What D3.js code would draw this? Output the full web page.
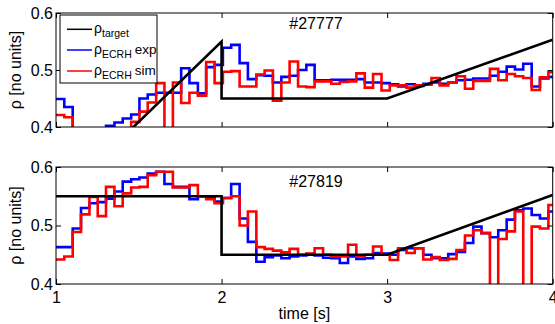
<!DOCTYPE html>
<html><head><meta charset="utf-8">
<script src="https://cdnjs.cloudflare.com/ajax/libs/d3/7.8.5/d3.min.js"></script>
<style>body{margin:0;background:#fff}</style>
</head><body>
<svg id="c" width="555" height="324"></svg>
<script>
// step edges [s]
const stepTimes = [1.000,1.050,1.101,1.151,1.202,1.252,1.302,1.353,1.403,1.454,
  1.504,1.554,1.605,1.655,1.706,1.756,1.806,1.857,1.907,1.958,
  2.008,2.058,2.109,2.159,2.210,2.260,2.310,2.361,2.411,2.462,
  2.512,2.562,2.613,2.663,2.714,2.764,2.814,2.865,2.915,2.966,
  3.016,3.066,3.117,3.167,3.218,3.268,3.318,3.369,3.419,3.470,
  3.520,3.570,3.621,3.671,3.722,3.772,3.822,3.873,3.923,3.974,4.024];

// shot #27777
const topExp = [0.449,0.435,0.38,0.37,0.37,0.38,0.402,0.408,0.415,0.422,
  0.450,0.457,0.460,0.460,0.460,0.503,0.477,0.459,0.505,0.509,
  0.539,0.544,0.512,0.484,0.491,0.490,0.478,0.488,0.490,0.500,
  0.509,0.482,0.482,0.483,0.483,0.483,0.484,0.478,0.478,0.477,
  0.475,0.471,0.475,0.472,0.476,0.478,0.476,0.478,0.482,0.483,
  0.485,0.485,0.490,0.497,0.506,0.501,0.511,0.471,0.485,0.488];
const topSim = [0.421,0.417,0.37,0.36,0.36,0.36,0.37,0.37,0.38,0.409,
  0.427,0.443,0.477,0.37,0.478,0.442,0.460,0.455,0.514,0.477,
  0.497,0.498,0.471,0.471,0.492,0.499,0.446,0.478,0.515,0.471,
  0.470,0.480,0.480,0.476,0.479,0.480,0.494,0.469,0.493,0.464,
  0.473,0.473,0.469,0.473,0.474,0.486,0.473,0.478,0.489,0.467,
  0.481,0.481,0.502,0.482,0.493,0.489,0.486,0.465,0.487,0.496];
const topTargetT = [1.45,2.0,2.0,3.0,4.0];
const topTargetV = [0.395,0.55,0.45,0.45,0.553];

// shot #27819
const botExp = [0.463,0.463,0.495,0.530,0.538,0.540,0.546,0.558,0.575,0.579,
  0.582,0.589,0.592,0.571,0.566,0.566,0.545,0.550,0.549,0.541,
  0.547,0.571,0.512,0.472,0.438,0.446,0.449,0.444,0.447,0.449,
  0.451,0.449,0.445,0.444,0.436,0.447,0.443,0.444,0.453,0.452,
  0.450,0.458,0.461,0.461,0.450,0.444,0.444,0.451,0.455,0.470,
  0.498,0.487,0.480,0.492,0.510,0.526,0.529,0.518,0.512,0.524];
const botSim = [0.442,0.447,0.489,0.519,0.549,0.516,0.566,0.533,0.555,0.565,
  0.566,0.586,0.592,0.592,0.565,0.565,0.569,0.550,0.545,0.538,
  0.547,0.550,0.500,0.524,0.463,0.460,0.457,0.454,0.460,0.450,
  0.452,0.461,0.450,0.447,0.447,0.467,0.447,0.450,0.464,0.450,
  0.441,0.461,0.453,0.461,0.442,0.446,0.441,0.443,0.458,0.483,
  0.492,0.487,0.30,0.477,0.490,0.524,0.30,0.498,0.495,0.535];
const botTargetT = [1.0,2.0,2.0,3.0,4.0];
const botTargetV = [0.55,0.55,0.45,0.45,0.552];

const xTicks = [1,2,3,4];
const yTicks = [0.4,0.5,0.6];
const shotTitles = ["#27777","#27819"];
const legendLabels = [["target",""],["ECRH","exp"],["ECRH","sim"]];

const FONT = "'Liberation Sans', Arial, Helvetica, sans-serif";
const svg = d3.select("#c");
const x = d3.scaleLinear().domain([1,4]).range([56,552.7]);

const panels = [
  {top:13, bottom:127, title:shotTitles[0], exp:topExp, sim:topSim, tT:topTargetT, tV:topTargetV, labels:false, titleY:29.3},
  {top:167, bottom:284, title:shotTitles[1], exp:botExp, sim:botSim, tT:botTargetT, tV:botTargetV, labels:true, titleY:186.7}
];

panels.forEach((p,i)=>{
  const y = d3.scaleLinear().domain([0.4,0.6]).range([p.bottom,p.top]);
  const g = svg.append("g");
  g.append("clipPath").attr("id","clip"+i).append("rect")
    .attr("x",x(1)).attr("y",p.top).attr("width",x(4)-x(1)).attr("height",p.bottom-p.top);
  const plot = g.append("g").attr("clip-path",`url(#clip${i})`);
  const stairs = vals => vals.map((v,k)=>[stepTimes[k],v]).concat([[stepTimes[vals.length], vals[vals.length-1]]]);
  const step = d3.line().x(d=>x(d[0])).y(d=>y(d[1])).curve(d3.curveStepAfter);
  const lin = d3.line().x(d=>x(d[0])).y(d=>y(d[1]));
  plot.append("path").datum(stairs(p.exp)).attr("d",step)
    .attr("fill","none").attr("stroke","#0000ff").attr("stroke-width",2.6);
  plot.append("path").datum(stairs(p.sim)).attr("d",step)
    .attr("fill","none").attr("stroke","#ff0000").attr("stroke-width",2.6);
  plot.append("path").datum(p.tT.map((t,k)=>[t,p.tV[k]])).attr("d",lin)
    .attr("fill","none").attr("stroke","#000").attr("stroke-width",2.6);

  // frame
  g.append("rect").attr("x",x(1)).attr("y",p.top).attr("width",x(4)-x(1)).attr("height",p.bottom-p.top)
    .attr("fill","none").attr("stroke","#000").attr("stroke-width",1);

  const style = sel => { sel.attr("font-family",FONT).attr("font-size",16); sel.select(".domain").remove(); sel.selectAll("line").attr("stroke","#000"); };
  g.append("g").attr("transform",`translate(0,${p.bottom})`)
    .call(d3.axisBottom(x).tickValues(xTicks).tickSizeInner(-5).tickSizeOuter(0).tickPadding(8)
      .tickFormat(p.labels ? d3.format("d") : ()=>"")).call(style);
  g.append("g").attr("transform",`translate(0,${p.top})`)
    .call(d3.axisTop(x).tickValues(xTicks).tickSizeInner(-5).tickSizeOuter(0).tickFormat(()=>"")).call(style);
  g.append("g").attr("transform",`translate(${x(1)},0)`)
    .call(d3.axisLeft(y).tickValues(yTicks).tickSizeInner(-5).tickSizeOuter(0).tickPadding(3)
      .tickFormat(d3.format(".1f"))).call(style);
  g.append("g").attr("transform",`translate(${x(4)},0)`)
    .call(d3.axisRight(y).tickValues(yTicks).tickSizeInner(-5).tickSizeOuter(0).tickFormat(()=>"")).call(style);

  // title
  g.append("text").attr("x",316).attr("y",p.titleY).attr("text-anchor","middle")
    .attr("font-family",FONT).attr("font-size",16).text(p.title);
  // y label
  g.append("text").attr("transform",`translate(21,${(p.top+p.bottom)/2}) rotate(-90)`)
    .attr("text-anchor","middle").attr("font-family",FONT).attr("font-size",16).text("ρ [no units]");
});

// x label
svg.append("text").attr("x",(x(1)+x(4))/2).attr("y",318.5).attr("text-anchor","middle")
  .attr("font-family",FONT).attr("font-size",16).text("time [s]");

// legend
const lg = svg.append("g");
lg.append("rect").attr("x",60).attr("y",15).attr("width",97).attr("height",68)
  .attr("fill","#fff").attr("stroke","#000").attr("stroke-width",1);
const lgColors = ["#000","#0000ff","#ff0000"];
const lgY = [29.3,50,71];
legendLabels.forEach((lab,k)=>{
  lg.append("line").attr("x1",67).attr("x2",92).attr("y1",lgY[k]).attr("y2",lgY[k])
    .attr("stroke",lgColors[k]).attr("stroke-width",1.5);
  const t = lg.append("text").attr("x",94).attr("y",lgY[k]+4).attr("font-family",FONT).attr("font-size",14);
  t.append("tspan").text("ρ");
  t.append("tspan").attr("dy",3.5).attr("font-size",10.5).text(lab[0]);
  if (lab[1]) t.append("tspan").attr("dy",-3.5).attr("dx",3).attr("font-size",13.5).text(lab[1]);
});
</script>
</body></html>
